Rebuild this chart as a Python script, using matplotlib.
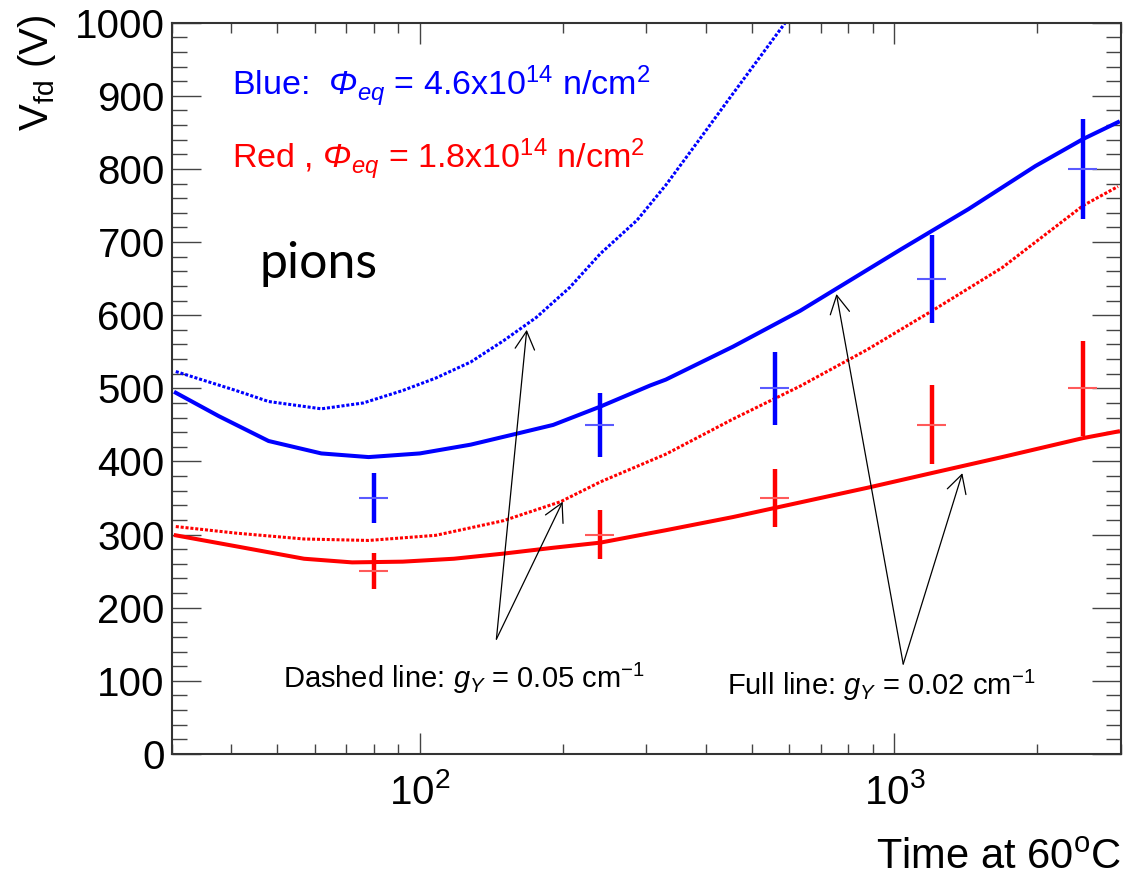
import numpy as np
import matplotlib
matplotlib.use("Agg")
import matplotlib.pyplot as plt
from matplotlib.ticker import LogLocator, LogFormatterMathtext, MultipleLocator, NullFormatter

plt.rcParams['font.family'] = ['Liberation Sans', 'DejaVu Sans']
plt.rcParams['mathtext.fontset'] = 'custom'
plt.rcParams['mathtext.rm'] = 'Liberation Sans'
plt.rcParams['mathtext.it'] = 'Liberation Sans:italic'
plt.rcParams['mathtext.sf'] = 'Liberation Sans:italic'
plt.rcParams['mathtext.bf'] = 'Liberation Sans:bold'

# measured points (time at 60C, full depletion voltage)
t_meas = np.array([80, 240, 560, 1200, 2500])
v_blue = np.array([350, 450, 500, 650, 800])
e_blue = np.array([34, 44, 50, 60, 69])
v_red = np.array([250, 300, 350, 450, 500])
e_red = np.array([25, 34, 40, 54, 65])

# model curves, g_Y = 0.02 cm-1 (full) and 0.05 cm-1 (dashed)
t_blue_full = [30.6, 37.7, 48, 62, 78, 100, 128, 160, 191, 240, 306, 330, 457, 633, 745,
               1032, 1432, 1983, 2500, 2960]
v_blue_full = [494, 462, 428, 411, 406, 411, 423, 438, 450, 475, 504, 512, 557, 606, 634,
               690, 745, 804, 841, 864]

t_blue_dash = [30.6, 41, 48, 62, 76, 92, 108, 128, 150, 176, 207, 240, 287, 330, 388,
               451, 589]
v_blue_dash = [523, 497, 482, 472, 480, 497, 514, 536, 565, 597, 638, 684, 730, 778, 840,
               898, 1000]

t_red_full = [30.6, 41, 57, 72, 92, 118, 150, 191, 240, 306, 330, 457, 633, 877,
              1215, 1687, 2500, 2960]
v_red_full = [299, 284, 267, 262, 263, 267, 274, 282, 289, 302, 306, 324, 344, 364,
              385, 406, 432, 441]

t_red_dash = [30.6, 41, 57, 78, 108, 150, 198, 240, 306, 330, 457, 633, 877,
              1215, 1687, 2500, 2960]
v_red_dash = [311, 302, 294, 292, 299, 319, 345, 372, 401, 410, 458, 503, 553,
              608, 665, 750, 776]

# arrow anchors (from label, to curve)
arrow_dash_from = (145, 157)
arrow_dash_to = [(168, 580), (200, 345)]
arrow_full_from = (1044, 123)
arrow_full_to = [(755, 629), (1391, 384)]

fig = plt.figure(figsize=(11.23, 8.8), dpi=100)
ax = fig.add_axes([0.1529, 0.1432, 0.8451, 0.8310])

dots = (0, (1.0, 0.6))
ax.plot(t_blue_dash, v_blue_dash, color='blue', lw=2.2, ls=dots)
ax.plot(t_red_dash, v_red_dash, color='red', lw=2.2, ls=dots)
ax.plot(t_blue_full, v_blue_full, color='blue', lw=2.9)
ax.plot(t_red_full, v_red_full, color='red', lw=2.9)

ax.errorbar(t_meas, v_blue, yerr=e_blue, fmt='none', ecolor='blue', elinewidth=3.2, capsize=0)
ax.errorbar(t_meas, v_blue, xerr=t_meas * 0.07, fmt='none', ecolor='#5a5aff', elinewidth=1.5, capsize=0)
ax.errorbar(t_meas, v_red, yerr=e_red, fmt='none', ecolor='red', elinewidth=3.2, capsize=0)
ax.errorbar(t_meas, v_red, xerr=t_meas * 0.07, fmt='none', ecolor='#ff5a5a', elinewidth=1.5, capsize=0)

arrow_style = dict(arrowstyle='->,head_length=1.3,head_width=0.7', lw=0.9, color='black',
                   shrinkA=0, shrinkB=0, mutation_scale=10)
for tgt in arrow_dash_to:
    ax.annotate('', xy=tgt, xytext=arrow_dash_from, arrowprops=arrow_style)
for tgt in arrow_full_to:
    ax.annotate('', xy=tgt, xytext=arrow_full_from, arrowprops=arrow_style)

ax.set_xscale('log')
ax.set_xlim(30, 3000)
ax.set_ylim(0, 1000)

ax.xaxis.set_major_locator(LogLocator(base=10))
ax.xaxis.set_major_formatter(LogFormatterMathtext())
ax.xaxis.set_minor_locator(LogLocator(base=10, subs=np.arange(2, 10)))
ax.xaxis.set_minor_formatter(NullFormatter())
ax.yaxis.set_major_locator(MultipleLocator(100))
ax.yaxis.set_minor_locator(MultipleLocator(20))

ax.tick_params(axis='both', which='both', direction='in', top=True, right=True,
               color='#444444', width=1.0, labelsize=29, labelcolor='black')
ax.tick_params(axis='y', which='major', length=21, pad=5)
ax.tick_params(axis='y', which='minor', length=11)
ax.tick_params(axis='x', which='major', length=15, pad=14)
ax.tick_params(axis='x', which='minor', length=7.5)
for sp in ax.spines.values():
    sp.set_linewidth(1.5)
    sp.set_color('#333333')

ax.set_ylabel(r'V$_{\mathrm{fd}}$ (V)', fontsize=29, loc='top')
ax.yaxis.set_label_coords(-0.1196, 1.0105)
ax.set_xlabel(r'Time at 60$^{\mathrm{o}}$C', fontsize=30, loc='right')
ax.xaxis.set_label_coords(1.0, -0.115)

ax.text(0.0632, 0.900, r'Blue:  $\mathsf{\Phi}_{eq}$ = 4.6x10$^{14}$ n/cm$^{2}$',
        transform=ax.transAxes, color='blue', fontsize=24.5, va='baseline')
ax.text(0.0632, 0.801, r'Red , $\mathsf{\Phi}_{eq}$ = 1.8x10$^{14}$ n/cm$^{2}$',
        transform=ax.transAxes, color='red', fontsize=24.5, va='baseline')
ax.text(0.093, 0.6505, 'pions', transform=ax.transAxes, fontsize=36,
        family=['Lato', 'DejaVu Sans'], va='baseline')
ax.text(0.1173, 0.0898, r'Dashed line: $g_{Y}$ = 0.05 cm$^{-1}$', transform=ax.transAxes,
        fontsize=21, va='baseline')
ax.text(0.585, 0.0807, r'Full line: $g_{Y}$ = 0.02 cm$^{-1}$', transform=ax.transAxes,
        fontsize=21, va='baseline')

fig.savefig('out.png', dpi=100)
